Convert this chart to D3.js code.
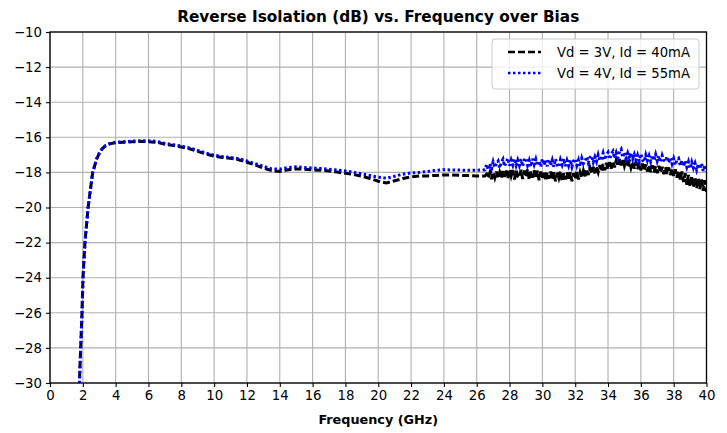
<!DOCTYPE html>
<html><head><meta charset="utf-8">
<script src="https://cdn.jsdelivr.net/npm/d3@7"></script>
<style>body{margin:0;background:#fff}svg{display:block}text{font-family:"DejaVu Sans",sans-serif}</style>
</head><body><div id="chart"></div>
<script>
const title = "Reverse Isolation (dB) vs. Frequency over Bias";
const xLabel = "Frequency (GHz)";
const seriesNames = ["Vd = 3V, Id = 40mA", "Vd = 4V, Id = 55mA"];
const xTicks = [0,2,4,6,8,10,12,14,16,18,20,22,24,26,28,30,32,34,36,38,40];
const yTicks = [-10,-12,-14,-16,-18,-20,-22,-24,-26,-28,-30];

// smooth part (both biases)
const freqSmooth = [1.78,1.87,1.95,2.01,2.13,2.32,2.6,2.85,3.0,3.2,3.4,3.7,4.0,4.5,5.0,5.5,6.0,6.5,7.0,7.5,8.0,8.5,9.0,9.5,10.0,10.5,11.0,11.5,12.0,12.5,13.0,13.5,14.0,14.5,15.0,15.5,16.0,16.5,17.0,17.5,18.0,18.5,19.0,19.5,20.0,20.5,21.0,21.5,22.0,22.5,23.0,23.5,24.0,24.5,25.0,25.5,26.0,26.5];
const vd3Smooth = [-30.3,-28,-26,-24,-22,-20,-18,-17.22,-16.93,-16.63,-16.48,-16.36,-16.31,-16.28,-16.26,-16.24,-16.25,-16.28,-16.4,-16.47,-16.55,-16.65,-16.8,-16.95,-17.07,-17.15,-17.2,-17.28,-17.42,-17.58,-17.75,-17.9,-17.95,-17.85,-17.8,-17.82,-17.86,-17.88,-17.92,-17.98,-18.05,-18.12,-18.22,-18.35,-18.5,-18.6,-18.48,-18.35,-18.25,-18.2,-18.2,-18.17,-18.15,-18.15,-18.17,-18.18,-18.2,-18.2];
const vd4Smooth = [-30.3,-28,-26,-24,-22,-20,-18,-17.2,-16.9,-16.6,-16.45,-16.33,-16.28,-16.25,-16.22,-16.2,-16.2,-16.23,-16.35,-16.42,-16.5,-16.6,-16.75,-16.9,-17.02,-17.1,-17.15,-17.22,-17.35,-17.5,-17.65,-17.8,-17.82,-17.72,-17.68,-17.72,-17.75,-17.78,-17.82,-17.87,-17.92,-18.0,-18.08,-18.18,-18.28,-18.33,-18.22,-18.1,-18.03,-18.0,-17.95,-17.88,-17.85,-17.86,-17.87,-17.88,-17.88,-17.85];

// noisy part
const freqNoisy = [26.6,26.7,26.8,26.9,27.0,27.1,27.2,27.3,27.4,27.5,
27.6,27.7,27.8,27.9,28.0,28.1,28.2,28.3,28.4,28.5,
28.6,28.7,28.8,28.9,29.0,29.1,29.2,29.3,29.4,29.5,
29.6,29.7,29.8,29.9,30.0,30.1,30.2,30.3,30.4,30.5,
30.6,30.7,30.8,30.9,31.0,31.1,31.2,31.3,31.4,31.5,
31.6,31.7,31.8,31.9,32.0,32.1,32.2,32.3,32.4,32.5,
32.6,32.7,32.8,32.9,33.0,33.1,33.2,33.3,33.4,33.5,
33.6,33.7,33.8,33.9,34.0,34.1,34.2,34.3,34.4,34.5,
34.6,34.7,34.8,34.9,35.0,35.1,35.2,35.3,35.4,35.5,
35.6,35.7,35.8,35.9,36.0,36.1,36.2,36.3,36.4,36.5,
36.6,36.7,36.8,36.9,37.0,37.1,37.2,37.3,37.4,37.5,
37.6,37.7,37.8,37.9,38.0,38.1,38.2,38.3,38.4,38.5,
38.6,38.7,38.8,38.9,39.0,39.1,39.2,39.3,39.4,39.5,
39.6,39.7,39.8,39.9,40.0];
const vd4Noisy = [-17.55,-17.85,-17.5,-17.8,-17.4,-17.72,-17.48,-17.35,-17.75,-17.42,
-17.25,-17.65,-17.38,-17.2,-17.62,-17.3,-17.58,-17.22,-17.6,-17.3,
-17.6,-17.25,-17.65,-17.28,-17.18,-17.6,-17.32,-17.66,-17.22,-17.55,
-17.25,-17.62,-17.35,-17.68,-17.22,-17.58,-17.3,-17.65,-17.25,-17.6,
-17.3,-17.68,-17.24,-17.58,-17.7,-17.28,-17.56,-17.22,-17.64,-17.32,
-17.62,-17.28,-17.68,-17.35,-17.22,-17.6,-17.3,-17.65,-17.2,-17.5,
-17.38,-17.1,-17.45,-17.15,-17.05,-17.42,-17.12,-17.38,-17.0,-17.32,
-17.22,-16.9,-17.28,-16.98,-16.85,-17.25,-16.95,-16.8,-17.2,-16.88,
-17.18,-16.82,-16.68,-17.15,-16.85,-17.22,-16.9,-17.2,-16.88,-17.25,
-16.98,-17.3,-17.02,-17.35,-16.95,-17.28,-17.4,-17.0,-17.32,-17.05,
-17.38,-17.02,-17.32,-16.98,-17.36,-17.06,-17.42,-17.04,-17.3,-17.38,
-17.1,-17.45,-17.18,-17.52,-17.22,-17.58,-17.28,-17.2,-17.6,-17.32,
-17.66,-17.35,-17.7,-17.4,-17.78,-17.42,-17.74,-17.48,-17.85,-17.52,
-17.8,-17.48,-17.92,-17.58,-17.95];
const vd3Noisy = [-18.1,-18.32,-18.02,-18.38,-17.98,-18.3,-17.95,-18.35,-18.0,-18.3,
-17.85,-18.25,-17.9,-18.35,-17.82,-18.2,-17.88,-18.4,-17.9,-18.22,
-18.3,-17.85,-18.38,-17.9,-18.22,-17.82,-18.42,-17.95,-18.3,-17.88,
-18.35,-17.9,-18.45,-17.95,-18.3,-17.92,-18.48,-18.0,-18.35,-17.95,
-18.42,-17.98,-18.5,-18.02,-18.32,-17.92,-18.52,-18.05,-18.4,-18.0,
-18.45,-18.0,-18.5,-18.05,-18.38,-17.95,-18.4,-18.0,-18.3,-17.9,
-18.22,-17.8,-18.15,-17.75,-18.08,-17.68,-18.05,-17.65,-17.98,-17.58,
-17.95,-17.52,-17.88,-17.46,-17.82,-17.42,-17.78,-17.36,-17.72,-17.32,
-17.65,-17.25,-17.6,-17.22,-17.62,-17.3,-17.7,-17.32,-17.72,-17.4,
-17.78,-17.4,-17.82,-17.45,-17.88,-17.5,-17.9,-17.55,-17.95,-17.58,
-17.98,-17.6,-18.0,-17.65,-18.05,-17.62,-18.02,-17.68,-18.1,-17.7,
-18.08,-17.72,-18.15,-17.78,-18.2,-17.82,-18.3,-17.9,-18.4,-17.95,
-18.55,-18.05,-18.7,-18.15,-18.8,-18.2,-18.85,-18.3,-18.9,-18.35,
-18.95,-18.4,-19.05,-18.45,-19.1];

const W = 727, H = 433;
const svg = d3.select("#chart").append("svg").attr("width", W).attr("height", H);
const x = d3.scaleLinear().domain([0, 40]).range([50, 706.5]);
const y = d3.scaleLinear().domain([-30, -10]).range([383, 32]);

svg.append("defs").append("clipPath").attr("id","clip").append("rect")
  .attr("x", x(0)).attr("y", y(-10)).attr("width", x(40)-x(0)).attr("height", y(-30)-y(-10));

// grid
const g = svg.append("g");
g.selectAll(".gx").data(xTicks).join("line")
  .attr("x1", d=>x(d)).attr("x2", d=>x(d)).attr("y1", y(-30)).attr("y2", y(-10))
  .attr("stroke", "#b0b0b0").attr("stroke-width", 1.1);
g.selectAll(".gy").data(yTicks).join("line")
  .attr("y1", d=>y(d)).attr("y2", d=>y(d)).attr("x1", x(0)).attr("x2", x(40))
  .attr("stroke", "#b0b0b0").attr("stroke-width", 1.1);

const d3pts = freqSmooth.map((f,i)=>[f, vd3Smooth[i]]).concat(freqNoisy.map((f,i)=>[f, vd3Noisy[i]]));
const d4pts = freqSmooth.map((f,i)=>[f, vd4Smooth[i]]).concat(freqNoisy.map((f,i)=>[f, vd4Noisy[i]]));
const line = d3.line().x(d=>x(d[0])).y(d=>y(d[1]));
const lines = svg.append("g").attr("clip-path", "url(#clip)");
lines.append("path").datum(d3pts).attr("d", line).attr("fill","none")
  .attr("stroke","#000").attr("stroke-width",3).attr("stroke-dasharray","7,3");
lines.append("path").datum(d4pts).attr("d", line).attr("fill","none")
  .attr("stroke","#0000ff").attr("stroke-width",3).attr("stroke-dasharray","2.5,2.5");

// axes
const xAxis = svg.append("g").attr("transform", `translate(0,${y(-30)})`)
  .call(d3.axisBottom(x).tickValues(xTicks).tickSize(4).tickPadding(4).tickFormat(d3.format("d")));
const yAxis = svg.append("g").attr("transform", `translate(${x(0)},0)`)
  .call(d3.axisLeft(y).tickValues(yTicks).tickSize(4).tickPadding(4).tickFormat(d=>"\u2212"+Math.abs(d)));
[xAxis, yAxis].forEach(a=>{
  a.select(".domain").remove();
  a.selectAll("line").attr("stroke","#000").attr("stroke-width",1.1);
  a.selectAll("text").attr("font-size",13.3).attr("fill","#000").attr("font-family","DejaVu Sans");
});
// frame
svg.append("rect").attr("x", x(0)).attr("y", y(-10)).attr("width", x(40)-x(0)).attr("height", y(-30)-y(-10))
  .attr("fill","none").attr("stroke","#000").attr("stroke-width",1.3);

// title & label
svg.append("text").attr("x", (x(0)+x(40))/2).attr("y", 22).attr("text-anchor","middle")
  .attr("font-size",15.3).attr("font-weight","bold").text(title);
svg.append("text").attr("x", (x(0)+x(40))/2).attr("y", 424).attr("text-anchor","middle")
  .attr("font-size",12.8).attr("font-weight","bold").text(xLabel);

// legend
const lg = svg.append("g");
lg.append("rect").attr("x",492).attr("y",39).attr("width",207).attr("height",50).attr("rx",3)
  .attr("fill","#fff").attr("fill-opacity",0.8).attr("stroke","#cccccc").attr("stroke-width",1);
const styles = [{c:"#000", dash:"7,3"}, {c:"#0000ff", dash:"2.5,2.5"}];
seriesNames.forEach((n,i)=>{
  const yy = 52 + i*21;
  lg.append("line").attr("x1",508).attr("x2",541).attr("y1",yy).attr("y2",yy)
    .attr("stroke",styles[i].c).attr("stroke-width",2.5).attr("stroke-dasharray",styles[i].dash);
  lg.append("text").attr("x",557).attr("y",yy+4.5).attr("font-size",13.2).text(n);
});
</script></body></html>
